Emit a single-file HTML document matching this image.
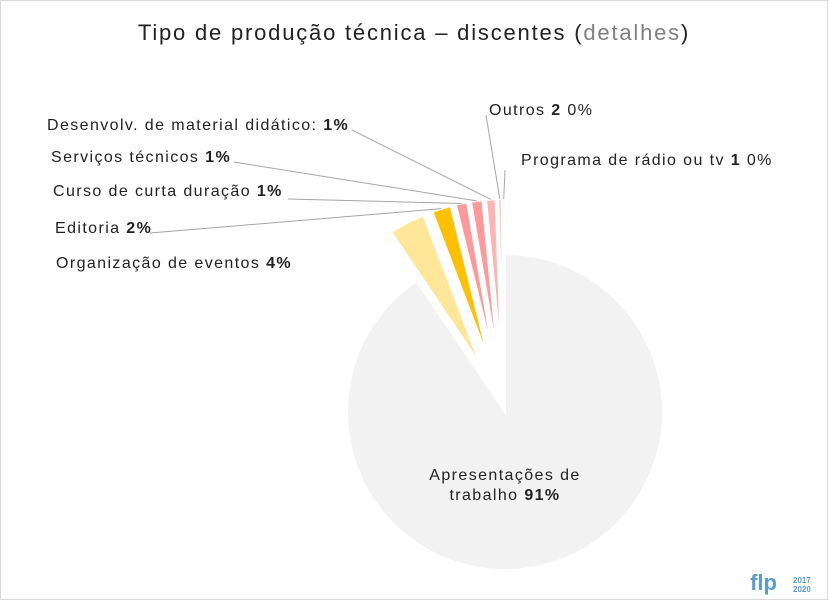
<!DOCTYPE html>
<html><head><meta charset="utf-8"><style>
body{margin:0;background:#fff}
#c{position:relative;width:828px;height:600px;font-family:"Liberation Sans",sans-serif}
svg text{font-family:"Liberation Sans",sans-serif}
</style></head><body>
<div id="c">
<svg width="828" height="600">
<rect x="0.5" y="0.5" width="827" height="599" fill="#fff" stroke="#d9d9d9"/>
<text x="414" y="40" font-size="22" letter-spacing="1.8" text-anchor="middle" fill="#222">Tipo de produção técnica – discentes (<tspan fill="#7f7f7f">detalhes</tspan>)</text>
<g id="slices"></g>
<g id="lines" stroke="#a6a6a6" fill="none" stroke-width="1"></g>
<g id="labels" font-size="16" letter-spacing="1.4" fill="#222"></g>
<text x="777" y="590" font-size="22" font-weight="bold" fill="#5b9bd5" text-anchor="end">flp</text>
<text x="793" y="583" font-size="8" font-weight="bold" fill="#5b9bd5">2017</text>
<text x="793" y="592" font-size="8" font-weight="bold" fill="#5b9bd5">2020</text>
</svg></div>
<script>
const categories=["Apresentações de trabalho","Organização de eventos","Editoria","Curso de curta duração","Serviços técnicos","Desenvolv. de material didático:","Outros","Programa de rádio ou tv"];
const values=[470,19,10,6,6,5,2,1];
const colors=["#f2f2f2","#ffe699","#ffc000","#ff9999","#ff9999","#ffb3b3","#ffcccc","#ffd9d9"];
const counts=["","","","","","","2","1"];
const cx=505,cy=412,R=158,explode=55;
const ns="http://www.w3.org/2000/svg";
const total=values.reduce((a,b)=>a+b,0);
const gS=document.getElementById('slices'),gL=document.getElementById('lines'),gT=document.getElementById('labels');
let a0=0;const mids=[];
values.forEach((v,i)=>{
 const a1=a0+v/total*2*Math.PI;const m=(a0+a1)/2;
 const off=i===0?0:explode;
 const ox=cx+off*Math.sin(m),oy=cy-off*Math.cos(m);
 const p1=[ox+R*Math.sin(a0),oy-R*Math.cos(a0)],p2=[ox+R*Math.sin(a1),oy-R*Math.cos(a1)];
 const large=(a1-a0)>Math.PI?1:0;
 const p=document.createElementNS(ns,'path');
 p.setAttribute('d',`M${ox},${oy}L${p1[0]},${p1[1]}A${R},${R} 0 ${large} 1 ${p2[0]},${p2[1]}Z`);
 p.setAttribute('fill',colors[i]);p.setAttribute('stroke','#fff');p.setAttribute('stroke-width','2');
 
 
 gS.appendChild(p);
 mids.push([ox+R*Math.sin(m),oy-R*Math.cos(m)]);
 a0=a1;
});
function pct(v){return Math.round(v/total*100)+'%';}
const lab=[[505,480,'middle'],[56,268,'start'],[55,233,'start'],[53,196,'start'],[51,162,'start'],[47,130,'start'],[489,115,'start'],[521,165,'start']];
const lineEnds=[null,null,[150,233],[288,199],[234,162],[352,130],[486,115],[505,170]];
values.forEach((v,i)=>{
 const [x,y,anc]=lab[i];
 const t=document.createElementNS(ns,'text');
 t.setAttribute('x',x);t.setAttribute('y',y);t.setAttribute('text-anchor',anc);
 
 
 if(i===0){
  t.innerHTML=`<tspan x="${x}" dy="0">Apresentações de</tspan><tspan x="${x}" dy="20">trabalho <tspan font-weight="bold">${pct(v)}</tspan></tspan>`;
 }else if(counts[i]){
  t.innerHTML=`${categories[i]} <tspan font-weight="bold">${counts[i]}</tspan> ${pct(v)}`;
 }else{
  t.innerHTML=`${categories[i]} <tspan font-weight="bold">${pct(v)}</tspan>`;
 }
 gT.appendChild(t);
 if(lineEnds[i]){
  const l=document.createElementNS(ns,'polyline');
  const e=lineEnds[i],m=mids[i];
  l.setAttribute('points',`${e[0]},${e[1]} ${m[0]},${m[1]}`);
  
  
  gL.appendChild(l);
 }
});
</script>
</body></html>
